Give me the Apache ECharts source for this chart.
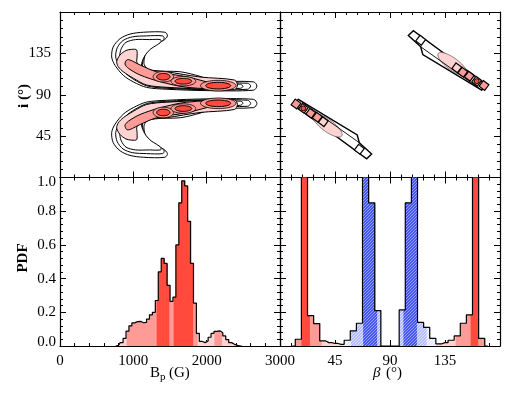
<!DOCTYPE html>
<html><head><meta charset="utf-8">
<script src="https://cdn.jsdelivr.net/npm/echarts@6/dist/echarts.min.js"></script>
<style>html,body{margin:0;padding:0;background:#fff}#c{width:508px;height:395px}</style>
</head><body><div id="c"></div>
<script>
// ================= DATA =================
const bpRange = [0, 3000], bpStep = 1000;
const incRange = [0, 180], incStep = 45;
const pdfRange = [0, 1.0], pdfStep = 0.2;
const betaRange = [0, 180], betaStep = 45;

// Bottom-left: PDF of B_p (40 G bins)
const bpBinWidth = 40;
const bpCenters = [760,800,840,880,920,960,1000,1040,1080,1120,1160,1200,1240,1280,1320,1360,1400,1440,1480,1520,
  1560,1600,1640,1680,1720,1760,1800,1840,1880,1920,1960,2000,2040,2080,2120,2160,2200,2240,2280,2320,2360,2400,2440,2480];
const bpPdf = [0,0.004,0.02,0.045,0.088,0.12,0.137,0.145,0.146,0.138,0.14,0.16,0.185,0.2,0.27,0.44,0.52,0.49,0.36,0.265,
  0.29,0.6,0.85,0.98,0.95,0.74,0.49,0.255,0.075,0.027,0.02,0.03,0.052,0.075,0.087,0.09,0.079,0.06,0.038,0.02,0.01,0.004,0,0];
// credible-level intervals along B_p: [from, to, level]  (1 = outer, 2 = middle, 3 = core)
const bpLevels = [[820,909,1],[909,1318,2],[1318,1491,3],[1491,1550,2],[1550,1818,3],[1818,1877,2],[1877,2105,1],[2105,2209,2],[2209,2460,1]];

// Bottom-right: PDF of beta (5 deg bins)
const betaBinWidth = 5;
const betaCenters = [10,15,20,25,30,35,40,45,50,55,60,65,70,75,80,85,90,95,100,105,110,115,120,125,130,135,140,145,150,155,160,165,170];
const betaPdf = [0,0.04,1.6,0.18,0.133,0.03,0.02,0.015,0.01,0.034,0.09,0.135,1.6,0.85,0.21,0,0,0,0.214,0.85,1.6,0.14,0.11,0.045,0.013,0.02,0.034,0.06,0.135,0.185,1.6,0.045,0];
// [from, to, family, level]
const betaLevels = [[12.5,17.5,'red',2],[17.5,24.5,'red',3],[24.5,34,'red',2],[34,52.5,'red',1],
  [52.5,58,'blue',1],[58,68,'blue',2],[68,79.5,'blue',3],[79.5,82.5,'blue',2],
  [97.5,101,'blue',2],[101,112,'blue',3],[112,120,'blue',2],[120,127.5,'blue',1],
  [127.5,143.7,'red',1],[143.7,156,'red',2],[156,162.3,'red',3],[162.3,167.5,'red',2]];

// Top-left: contours in (B_p [G], i [deg])
const upOuter1 = [[1140,158],[1430,158],[1465,154],[1410,149],[1295,146],[1205,140],[1160,133],[1145,124],[1180,119],[1270,116],[1640,115],[1910,110],[2090,105],[2640,104],[2685,99.5],[2640,95],[2000,94.5],[1455,96],[1180,98],[1000,104],[865,111],[750,122],[705,131],[725,142],[820,151],[955,156]];
const upOuter2 = [[1180,154],[1400,154],[1420,151],[1370,147],[1270,143],[1190,137],[1140,130],[1125,121],[1165,115],[1260,113],[1640,112],[1900,107],[2080,103],[2560,102.5],[2600,99.5],[2560,96],[2000,95.5],[1460,97],[1190,99.5],[1020,106],[900,113],[800,123],[760,131],[780,141],[860,149],[990,153]];
const upOuter3 = [[1220,150],[1370,150],[1375,147.5],[1320,144],[1240,140],[1170,134],[1120,126],[1110,118],[1150,112],[1250,110],[1640,109],[1890,105],[2070,102],[2460,101.5],[2495,99],[2460,97],[2000,96.5],[1470,98],[1200,101],[1040,108],[940,115],[850,124],[815,131],[835,140],[900,147],[1030,150]];
const upLight = [[978,139.4],[1046,138.7],[1050,130],[1046,126],[1091,120.5],[1227,117],[1455,115],[1909,109.3],[2380,106],[2420,100.6],[2380,95.5],[1455,98.1],[1182,100.6],[1000,108],[863,115],[795,120.5],[773,126],[818,133.2],[900,138.1]];
const upMid = [[910,127.8],[955,127.8],[1091,122.4],[1318,115],[1727,109.6],[2091,102.5],[2330,101.7],[2365,98.5],[2330,96],[1727,98.1],[1364,104.2],[1091,111.5],[932,118.8],[886,123.4]];
const upCores = [[1409,109.6,91,3.6],[1682,104.7,114,3.1],[2157,99.9,170,3.6]];

const loOuter1 = [[1140,22],[1430,22],[1465,26],[1410,31],[1295,34],[1205,40],[1160,47],[1145,56],[1180,61],[1270,64],[1640,65],[1910,70],[2090,75],[2640,76],[2685,80.5],[2640,85],[2000,85.5],[1455,84],[1180,82],[1000,76],[865,69],[750,58],[705,49],[725,38],[820,29],[955,24]];
const loOuter2 = [[1180,26],[1400,26],[1420,29],[1370,33],[1270,37],[1190,43],[1140,50],[1125,59],[1165,65],[1260,67],[1640,68],[1900,73],[2080,77],[2560,77.5],[2600,80.5],[2560,84],[2000,84.5],[1460,83],[1190,80.5],[1020,74],[900,67],[800,57],[760,49],[780,39],[860,31],[990,27]];
const loOuter3 = [[1220,30],[1370,30],[1375,32.5],[1320,36],[1240,40],[1170,46],[1120,54],[1110,62],[1150,68],[1250,70],[1640,71],[1890,75],[2070,78],[2460,78.5],[2495,81],[2460,83],[2000,83.5],[1470,82],[1200,79],[1040,72],[940,65],[850,56],[815,49],[835,40],[900,33],[1030,30]];
const loLight = [[978,40.6],[1046,41.3],[1050,50],[1046,54],[1091,59.5],[1227,63],[1455,65],[1909,70.7],[2380,74],[2420,79.4],[2380,84.5],[1455,81.9],[1182,79.4],[1000,72],[863,65],[795,59.5],[773,54],[818,46.8],[900,41.9]];
const loMid = [[910,52.2],[955,52.2],[1091,57.6],[1318,65],[1727,70.4],[2091,77.5],[2330,78.3],[2365,81.5],[2330,84],[1727,81.9],[1364,75.8],[1091,68.5],[932,61.2],[886,56.6]];
const loCores = [[1409,70.7,91,3.6],[1682,75,114,3.1],[2157,80.7,170,3.6]];

// Top-right: contours in (beta [deg], i [deg])
const barLow = [[10.4,79.6],[15,85],[63.2,46.2],[64.9,37.8],[75,25.6],[70.9,20.4]];
const barHigh = [[169.6,100.4],[165,95],[116.8,133.8],[115.1,142.2],[105,154.4],[109.1,159.6]];
const barInnerLow = [[15,85],[64.9,37.8]];
const barInnerHigh = [[165,95],[115.1,142.2]];
const barEllipses = [[27,68.2,50.5,45.1],[153,111.8,129.5,134.9]]; // major-axis ends
const barCells = [[13.1,79.9,2],[19.1,75.2,3],[25.1,69.8,2],[30.5,65.5,2],[35.4,60.7,1],[64.9,30.7,0],
  [166.9,100.1,2],[160.9,104.8,3],[154.9,110.2,2],[149.5,114.5,2],[144.6,119.3,1],[115.1,149.3,0]];

// ================= STYLE =================
const FONT = '"Liberation Serif", "DejaVu Serif", serif';
const RED = {0:'#ffffff', 1:'#ffd3d1', 2:'#ff9b97', 3:'#ff4a3d'};
function hatch(base, line) {
  const cv = document.createElement('canvas'); cv.width = 3; cv.height = 3;
  const g = cv.getContext('2d'); g.fillStyle = base; g.fillRect(0,0,3,3); g.fillStyle = line;
  for (let x=0;x<3;x++) for (let y=0;y<3;y++) if ((x+y)%3===2) g.fillRect(x,y,1,1);
  return {image: cv, repeat: 'repeat'};
}
const BLUE = {1: hatch('#e2e6ff','#ffffff'), 2: hatch('#b3bcff','#e0e4ff'), 3: hatch('#4557ee','#94a0ff')};

const G = [
  {left:60, top:12, width:220, height:165.5},
  {left:280, top:12, width:220, height:165.5},
  {left:60, top:177.5, width:220, height:168.5},
  {left:280, top:177.5, width:220, height:168.5}
].map(g => Object.assign({containLabel:false, outerBoundsMode:'none', show:false}, g));

function ax(extra, label) {
  return Object.assign({
    type:'value', splitLine:{show:false}, minorSplitLine:{show:false},
    axisLine:{show:true, onZero:false, lineStyle:{color:'#000', width:1.2}},
    axisTick:{show:true, inside:true, length:6, lineStyle:{color:'#000', width:1}},
    minorTick:{show:true, splitNumber:5, length:3, lineStyle:{color:'#000', width:1}},
    axisLabel: label ? Object.assign({show:true, color:'#000', fontFamily:FONT, fontSize:15, formatter: v => String(v)}, label) : {show:false}
  }, extra);
}
const bpAx = {min:bpRange[0], max:bpRange[1], interval:bpStep};
const incAx = {min:incRange[0], max:incRange[1], interval:incStep};
const pdfAx = {min:pdfRange[0], max:pdfRange[1], interval:pdfStep};
const betaAx = {min:betaRange[0], max:betaRange[1], interval:betaStep};

const xAxis = [
  ax(Object.assign({gridIndex:0, position:'bottom'}, bpAx)),
  ax(Object.assign({gridIndex:0, position:'top'}, bpAx)),
  ax(Object.assign({gridIndex:1, position:'bottom'}, betaAx)),
  ax(Object.assign({gridIndex:1, position:'top'}, betaAx)),
  ax(Object.assign({gridIndex:2, position:'bottom'}, bpAx), {margin:8}),
  ax(Object.assign({gridIndex:2, position:'top'}, bpAx)),
  ax(Object.assign({gridIndex:3, position:'bottom'}, betaAx), {margin:8, showMinLabel:false, showMaxLabel:false}),
  ax(Object.assign({gridIndex:3, position:'top'}, betaAx))
];
const yAxis = [
  ax(Object.assign({gridIndex:0, position:'left'}, incAx), {margin:9, showMinLabel:false, showMaxLabel:false}),
  ax(Object.assign({gridIndex:0, position:'right'}, incAx)),
  ax(Object.assign({gridIndex:1, position:'left'}, incAx)),
  ax(Object.assign({gridIndex:1, position:'right'}, incAx)),
  ax(Object.assign({gridIndex:2, position:'left'}, pdfAx), {margin:4,
     formatter: v => { const s = v.toFixed(1); if (Math.abs(v) < 1e-9) return '{lo|'+s+'}'; if (Math.abs(v-1) < 1e-9) return '{hi|'+s+'}'; return s; },
     rich:{lo:{fontFamily:FONT, fontSize:15, color:'#000', padding:[0,0,7,0]}, hi:{fontFamily:FONT, fontSize:15, color:'#000', padding:[10,0,0,0]}}}),
  ax(Object.assign({gridIndex:2, position:'right'}, pdfAx)),
  ax(Object.assign({gridIndex:3, position:'left'}, pdfAx)),
  ax(Object.assign({gridIndex:3, position:'right'}, pdfAx))
];

// ---------- renderers ----------
function polySeries(xi, yi, polys, fill, lw, smooth) {
  return {type:'custom', xAxisIndex:xi, yAxisIndex:yi, clip:true, silent:true, animation:false,
    data: polys.map(p => p[0]),
    renderItem: (params, api) => {
      const poly = polys[params.dataIndex];
      return {type:'polygon', shape:{points: poly.map(p => api.coord(p)), smooth: smooth}, style:{fill: fill, stroke:'#000', lineWidth: lw}};
    }};
}
function ellipsePts(cx, cy, rx, ry, ang) {
  const pts = [], ca = Math.cos(ang), sa = Math.sin(ang);
  for (let k=0;k<48;k++) { const t = k/48*2*Math.PI; const x = rx*Math.cos(t), y = ry*Math.sin(t);
    pts.push([cx + x*ca - y*sa, cy + x*sa + y*ca]); }
  return pts;
}
function coreSeries(xi, yi, cores) {
  return {type:'custom', xAxisIndex:xi, yAxisIndex:yi, clip:true, silent:true, animation:false,
    dimensions:['b','i','rb','ri'], data: cores,
    renderItem: (params, api) => {
      const c = api.coord([api.value(0), api.value(1)]);
      const s = api.size([api.value(2), api.value(3)]);
      return {type:'group', children:[
        {type:'polygon', shape:{points: ellipsePts(c[0], c[1], s[0]*1.3+1.5, s[1]*1.3+1, 0)}, style:{fill:RED[2], stroke:'#000', lineWidth:0.8}},
        {type:'polygon', shape:{points: ellipsePts(c[0], c[1], s[0], s[1], 0)}, style:{fill:RED[3], stroke:'#000', lineWidth:1}}
      ]};
    }};
}
function binSeries(xi, yi, centers, values, width, levels, colorOf) {
  return {type:'custom', xAxisIndex:xi, yAxisIndex:yi, clip:true, silent:true, animation:false,
    data: centers.map((c,k) => [c, values[k]]),
    renderItem: (params, api) => {
      const c = api.value(0), h = api.value(1);
      const children = [];
      if (h > 0) {
        const x0 = c - width/2, x1 = c + width/2;
        for (const iv of levels) {
          const a = Math.max(x0, iv[0]), b = Math.min(x1, iv[1]);
          if (b <= a) continue;
          const p0 = api.coord([a, 0]), p1 = api.coord([b, h]);
          children.push({type:'rect', shape:{x:p0[0], y:p1[1], width:p1[0]-p0[0]+0.6, height:p0[1]-p1[1]}, style:{fill: colorOf(iv)}});
        }
      }
      return {type:'group', children};
    }};
}
function stepLine(xi, yi, centers, values) {
  return {type:'line', xAxisIndex:xi, yAxisIndex:yi, step:'middle', symbol:'none', silent:true, animation:false,
    data: centers.map((c,k) => [c, values[k]]), lineStyle:{color:'#000', width:1.2}, z:3};
}

const series = [
  // top-left contours
  polySeries(0,0,[upOuter1, loOuter1], '#fff', 1, 0.3),
  polySeries(0,0,[upOuter2, loOuter2], '#fff', 1, 0.3),
  polySeries(0,0,[upOuter3, loOuter3], '#fff', 1, 0.3),
  polySeries(0,0,[upLight, loLight], RED[1], 1, 0.3),
  polySeries(0,0,[upMid, loMid], RED[2], 1, 0.3),
  coreSeries(0,0, upCores.concat(loCores)),
  // top-right contours
  polySeries(2,2,[barLow, barHigh], '#fff', 1.4, 0),
  {type:'custom', xAxisIndex:2, yAxisIndex:2, clip:true, silent:true, animation:false,
    data: barEllipses,
    renderItem:(params, api) => {
      const a = api.coord([api.value(0), api.value(1)]), b = api.coord([api.value(2), api.value(3)]);
      const cx = (a[0]+b[0])/2, cy = (a[1]+b[1])/2;
      const len = Math.hypot(b[0]-a[0], b[1]-a[1])/2, ang = Math.atan2(b[1]-a[1], b[0]-a[0]);
      return {type:'polygon', shape:{points: ellipsePts(cx, cy, len, 6, ang)}, style:{fill:RED[1], stroke:'#555', lineWidth:0.7}};
    }},
  {type:'custom', xAxisIndex:2, yAxisIndex:2, clip:true, silent:true, animation:false,
    data:[barInnerLow[0], barInnerHigh[0]],
    renderItem:(params, api) => {
      const w = params.dataIndex === 0 ? barInnerLow : barInnerHigh;
      return {type:'polyline', shape:{points: w.map(p => api.coord(p))}, style:{stroke:'#000', lineWidth:0.9, fill:null}};
    }},
  {type:'custom', xAxisIndex:2, yAxisIndex:2, clip:true, silent:true, animation:false,
    data: barCells,
    renderItem:(params, api) => {
      const c = api.coord([api.value(0), api.value(1)]);
      const lev = api.value(2);
      const p1 = api.coord(barLow[1]), p2 = api.coord(barLow[4]);
      const ang = Math.atan2(p2[1]-p1[1], p2[0]-p1[0]);
      const h = 3.5, ca = Math.cos(ang), sa = Math.sin(ang);
      const sq = [[-h,-h],[h,-h],[h,h],[-h,h]].map(q => [c[0] + q[0]*ca - q[1]*sa, c[1] + q[0]*sa + q[1]*ca]);
      const ch = [{type:'polygon', shape:{points:sq}, style:{fill: lev===3 ? RED[2] : RED[lev], stroke:'#000', lineWidth:1.2}}];
      if (lev === 3) ch.push({type:'circle', shape:{cx:c[0], cy:c[1], r:2.4}, style:{fill:RED[3], stroke:'#000', lineWidth:0.9}});
      return {type:'group', children: ch};
    }},
  // bottom-left PDF
  binSeries(4,4, bpCenters, bpPdf, bpBinWidth, bpLevels, iv => RED[iv[2]]),
  stepLine(4,4, bpCenters, bpPdf),
  // bottom-right PDF
  binSeries(6,6, betaCenters, betaPdf, betaBinWidth, betaLevels, iv => iv[2] === 'red' ? RED[iv[3]] : BLUE[iv[3]]),
  stepLine(6,6, betaCenters, betaPdf)
];

const T = (o) => Object.assign({type:'text', z:100, silent:true}, o);
const graphic = [
  T({x:24, y:96, rotation:Math.PI/2, style:{text:'i (°)', fontFamily:FONT, fontSize:15, fontWeight:'bold', fill:'#000', align:'center', verticalAlign:'middle'}}),
  T({x:23.5, y:258, rotation:Math.PI/2, style:{text:'PDF', fontFamily:FONT, fontSize:15, fontWeight:'bold', fill:'#000', align:'center', verticalAlign:'middle'}}),
  T({x:150, y:373, style:{text:'B', fontFamily:FONT, fontSize:15, fill:'#000', align:'left', verticalAlign:'middle'}}),
  T({x:160, y:377, style:{text:'p', fontFamily:FONT, fontSize:11, fill:'#000', align:'left', verticalAlign:'middle'}}),
  T({x:169, y:373, style:{text:'(G)', fontFamily:FONT, fontSize:15, fill:'#000', align:'left', verticalAlign:'middle'}}),
  T({x:373, y:373, style:{text:'β', fontFamily:FONT, fontSize:15, fontStyle:'italic', fill:'#000', align:'left', verticalAlign:'middle'}}),
  T({x:386, y:373, style:{text:'(°)', fontFamily:FONT, fontSize:15, fill:'#000', align:'left', verticalAlign:'middle'}})
];

const chart = echarts.init(document.getElementById('c'), null, {renderer:'canvas'});
chart.setOption({animation:false, backgroundColor:'#fff', grid:G, xAxis, yAxis, series, graphic});
</script></body></html>
